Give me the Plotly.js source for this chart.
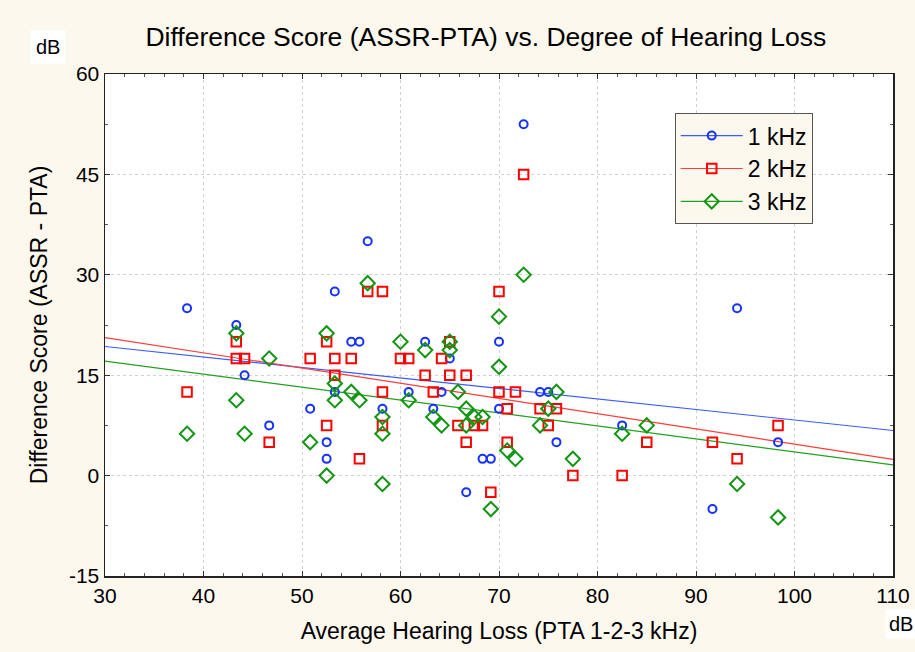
<!DOCTYPE html>
<html>
<head>
<meta charset="utf-8">
<script src="https://cdn.plot.ly/plotly-3.0.1.min.js"></script>
<style>html,body{margin:0;padding:0;background:#fdf8ee;}#chart{width:915px;height:652px;}</style>
</head>
<body>
<div id="chart"></div>
<script>
// 1 kHz
const x1k = [38.33,43.33,44.17,46.67,50.83,52.5,52.5,53.33,53.33,55,55.83,56.67,58.17,60.83,62.5,63.33,64.17,65,66.67,68.33,69.17,70,70,72.5,74.17,75,75.83,82.5,91.67,94.17,98.33];
const y1k = [25,22.5,15,7.5,10,5,2.5,12.5,27.5,20,20,35,10,12.5,20,10,12.5,17.5,-2.5,2.5,2.5,20,10,52.5,12.5,12.5,5,7.5,-5,25,5];
// 2 kHz
const x2k = [38.33,43.33,43.33,44.17,46.67,50.83,52.5,52.5,53.33,53.33,55,55.83,56.67,58.17,58.17,58.17,60,60.83,62.5,63.33,64.17,65,65,65.83,66.67,66.67,67.5,68.33,69.17,70,70,70.83,70.83,71.67,72.5,74.17,75,75.83,77.5,82.5,85,91.67,94.17,98.33];
const y2k = [12.5,20,17.5,17.5,5,17.5,20,7.5,17.5,15,17.5,2.5,27.5,27.5,12.5,7.5,17.5,17.5,15,12.5,17.5,20,15,7.5,15,5,7.5,7.5,-2.5,27.5,12.5,10,5,12.5,45,10,7.5,10,0,0,5,5,2.5,7.5];
// 3 kHz
const x3k = [38.33,43.33,43.33,44.17,46.67,50.83,52.5,52.5,53.33,53.33,55,55.83,56.67,58.17,58.17,58.17,60,60.83,62.5,63.33,64.17,65,65,65.83,66.67,66.67,67.5,68.33,69.17,70,70,70.83,71.67,72.5,74.17,75,75.83,77.5,82.5,85,94.17,98.33];
const y3k = [6.25,21.25,11.25,6.25,17.5,5,21.25,0,13.75,11.25,12.5,11.25,28.75,8.75,6.25,-1.25,20,11.25,18.75,8.75,7.5,20,18.75,12.5,10,7.5,8.75,8.75,-5,23.75,16.25,3.75,2.5,30,7.5,10,12.5,2.5,6.25,7.5,-1.25,-6.25];

const seriesNames = ['1 kHz','2 kHz','3 kHz'];
const xTicks = [30,40,50,60,70,80,90,100,110];
const yTicks = [-15,0,15,30,45,60];
const yTickText = ['-15','0','15','30','45','60'];
const xRange = [30,110];
const yRange = [-15,60];

function fit(xs, ys){
  const n = xs.length;
  let sx=0, sy=0, sxx=0, sxy=0;
  for(let i=0;i<n;i++){sx+=xs[i];sy+=ys[i];sxx+=xs[i]*xs[i];sxy+=xs[i]*ys[i];}
  const b = (n*sxy - sx*sy)/(n*sxx - sx*sx);
  const a = (sy - b*sx)/n;
  return {x: xRange.slice(), y: xRange.map(v => a + b*v)};
}

const styles = [
  {color:'#1432ff', line:'#3a5cff', symbol:'circle-open', size:8},
  {color:'#ff0000', line:'#ff3b3b', symbol:'square-open', size:9.5},
  {color:'#129612', line:'#22a022', symbol:'diamond-open', size:11}
];
const data = [[x1k,y1k],[x2k,y2k],[x3k,y3k]];
const traces = [];
data.forEach((d,i)=>{
  const s = styles[i];
  const f = fit(d[0], d[1]);
  traces.push({x:f.x, y:f.y, mode:'lines', line:{color:s.line, width:1.2}, showlegend:false, hoverinfo:'skip', legendgroup:seriesNames[i]});
});
data.forEach((d,i)=>{
  const s = styles[i];
  traces.push({x:d[0], y:d[1], mode:'markers', name:seriesNames[i], showlegend:false, legendgroup:seriesNames[i],
    marker:{symbol:s.symbol, size:s.size, color:s.color, line:{width:2, color:s.color}}});
});
data.forEach((d,i)=>{
  const s = styles[i];
  traces.push({x:[null], y:[null], mode:'lines+markers', name:seriesNames[i], legendgroup:seriesNames[i],
    line:{color:s.line, width:1.2},
    marker:{symbol:s.symbol, size:s.size, color:s.color, line:{width:2, color:s.color}}});
});

const fam = 'Liberation Sans, Arial, sans-serif';
const F = (size) => ({family:fam, size:size, color:'#000'});
const layout = {
  width:915, height:652,
  paper_bgcolor:'#fdf8ee', plot_bgcolor:'#ffffff',
  margin:{l:105, r:22, t:74, b:76},
  font: F(20),
  title:{text:'Difference Score (ASSR-PTA) vs. Degree of Hearing Loss', x:0.531, xanchor:'center', y:0.944, yanchor:'middle', font:F(26.5)},
  xaxis:{range:xRange, tickvals:xTicks, showgrid:true, gridcolor:'#d2d2d2', griddash:'dot', gridwidth:1,
    zeroline:false, showline:true, linecolor:'#222', linewidth:1.5, mirror:'ticks', ticks:'inside', ticklen:5, tickcolor:'#333',
    minor:{dtick:2, ticks:'inside', ticklen:3, tickcolor:'#555', showgrid:false},
    tickfont:F(21),
    title:{text:'Average Hearing Loss (PTA 1-2-3 kHz)', font:F(23), standoff:17}},
  yaxis:{range:yRange, tickvals:yTicks, ticktext:yTickText, showgrid:true, gridcolor:'#d2d2d2', griddash:'dot', gridwidth:1,
    zeroline:false, showline:true, linecolor:'#222', linewidth:1.5, mirror:'ticks', ticks:'inside', ticklen:5, tickcolor:'#333',
    minor:{dtick:7.5, ticks:'inside', ticklen:3, tickcolor:'#555', showgrid:false},
    tickfont:F(21),
    title:{text:'Difference Score (ASSR - PTA)', font:F(23), standoff:15}},
  legend:{x:0.723, y:0.922, xanchor:'left', yanchor:'top', bgcolor:'#fdf8ee', bordercolor:'#555', borderwidth:1,
    font:F(23), itemwidth:62, tracegroupgap:0},
  annotations:[
    {text:'dB', xref:'paper', yref:'paper', x:-0.05, y:1.053, xanchor:'right', yanchor:'middle', showarrow:false, bgcolor:'#ffffff', borderpad:5, font:F(20)},
    {text:'dB', xref:'paper', yref:'paper', x:1.03, y:-0.096, xanchor:'right', yanchor:'middle', showarrow:false, bgcolor:'#ffffff', borderpad:3, font:F(20)}
  ],
  showlegend:true
};
Plotly.newPlot('chart', traces, layout, {displayModeBar:false, staticPlot:true});
</script>
</body>
</html>
